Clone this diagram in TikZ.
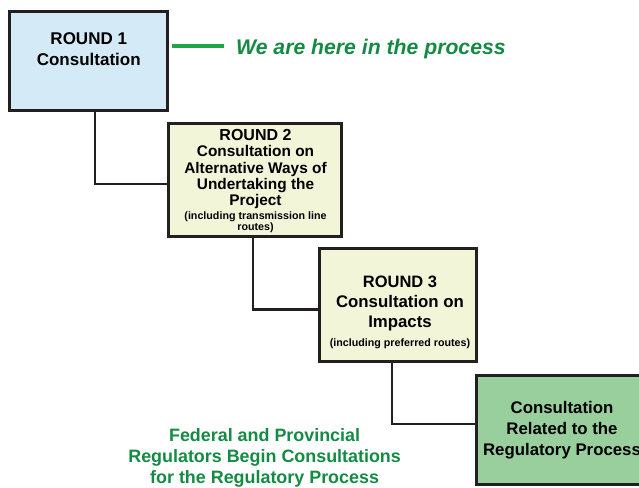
\documentclass[tikz,border=0pt]{standalone}
\usepackage{fontspec}
\setmainfont{Liberation Sans}
\usepackage{tikz}
\definecolor{cadre}{HTML}{231F20}
\definecolor{bleu}{HTML}{D4EBF7}
\definecolor{jaune}{HTML}{F3F5D8}
\definecolor{vert}{HTML}{98CF9D}
\definecolor{vertfonce}{HTML}{138B43}
\definecolor{vertvif}{HTML}{1DA64A}
\newcommand{\petit}{\fontsize{10.7}{11}\selectfont}

\begin{document}
\begin{tikzpicture}[x=1pt,y=-1pt,
        boite/.style={draw=cadre,line width=2.6pt,inner sep=0pt},
        texte/.style={inner sep=0pt,align=center,anchor=north}]
            \useasboundingbox (0,0) rectangle (639,487);
            \node[boite,fill=bleu,minimum width=158,minimum height=99.5] (r1) at (88.75,61) {};
            \node[boite,fill=jaune,minimum width=173.5,minimum height=113.5] (r2) at (255,180) {};
            \node[boite,fill=jaune,minimum width=157.5,minimum height=113.5] (r3) at (398,305) {};
            \node[boite,fill=vert,minimum width=171.5,minimum height=109.5] (r4) at (562,430) {};

            \foreach \a/\b/\dx/\dy in {r1/r2/6.25/-4,r2/r3/-2/-4.5,r3/r4/-6.3/6} {
                \draw[cadre,line width=2.4pt] ([xshift=\dx pt]\a.south) |- ([yshift=\dy pt]\b.west);
            }

            \node[texte,font=\bfseries\fontsize{17}{21}\selectfont] (t1) at (88.75,32) {ROUND 1\\Consultation};
            \node[texte,font=\bfseries\fontsize{15.4}{16.4}\selectfont] (t2) at (255.5,129) {{\fontsize{16}{16}\selectfont ROUND 2}\\Consultation on\\Alternative Ways of\\Undertaking the\\Project\\[-3pt]{\petit (including transmission line}\\[-5.4pt]{\petit routes)}};
            \node[texte,font=\bfseries\fontsize{16.8}{20}\selectfont] (t3) at (400,276) {{\fontsize{16.5}{20}\selectfont ROUND 3}\\Consultation on\\Impacts\\[-1.7pt]{\petit (including preferred routes)}};
            \node[texte,font=\bfseries\fontsize{16.8}{21}\selectfont] (t4) at (562,400.7) {Consultation\\Related to the\\Regulatory Process};

            \node[texte,text=vertfonce,font=\bfseries\fontsize{17.9}{21}\selectfont] (regl) at (264.6,428.6) {Federal and Provincial\\Regulators Begin Consultations\\for the Regulatory Process};
            \node[inner sep=0pt,anchor=base west,text=vertfonce,font=\bfseries\itshape\fontsize{21.2}{24}\selectfont] (ici) at (236,54.3) {We are here in the process};
            \coordinate (trait) at (224,46);
            \draw[vertvif,line width=4pt] ([xshift=3pt]r1.east |- trait) -- (trait);
        \end{tikzpicture}
\end{document}
